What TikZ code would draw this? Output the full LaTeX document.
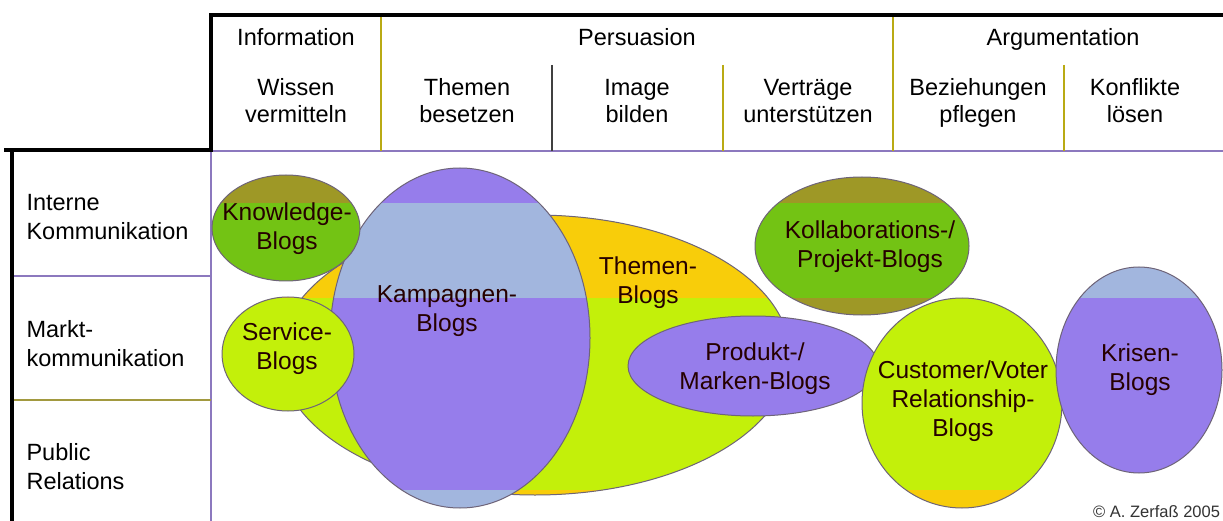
\documentclass[tikz,border=0pt]{standalone}
\usepackage{fontspec}
\setmainfont{Liberation Sans}
\definecolor{cOlive}{RGB}{158,152,38}
\definecolor{cGreen}{RGB}{115,195,20}
\definecolor{cYellow}{RGB}{248,205,10}
\definecolor{cYGreen}{RGB}{195,240,10}
\definecolor{cPurple}{RGB}{150,125,235}
\definecolor{cLBlue}{RGB}{162,182,222}
\definecolor{cSepOlive}{RGB}{185,170,20}
\definecolor{cSepPurple}{RGB}{140,120,190}
\definecolor{cOutline}{RGB}{110,100,120}
\tikzset{
  thickframe/.style={line width=4pt, line cap=rect},
  sepline/.style={line width=1.2pt, cSepOlive},
  gridline/.style={line width=1.2pt, cSepPurple},
  blobline/.style={line width=1pt, cOutline},
  hdr/.style={font=\fontsize{23.5}{27}\selectfont, align=center, text=black, anchor=base},
  side/.style={font=\fontsize{23.5}{29}\selectfont, align=left, anchor=base west, text=black},
  blobtext/.style={font=\fontsize{24.5}{29}\selectfont, align=center, text=black!85!red}
}
\newcommand\blob[6]{%
  \begin{scope}
    \clip (#1,#2) ellipse [x radius=#3, y radius=#4];
    \fill[#5] (#1-#3,#2-#4) rectangle (#1+#3,#2+#4);
    \fill[#6] (#1-#3,203) rectangle (#1+#3,298);
    \fill[#6] (#1-#3,490) rectangle (#1+#3,530);
  \end{scope}
  \draw[blobline] (#1,#2) ellipse [x radius=#3, y radius=#4];
}
\begin{document}
\begin{tikzpicture}[x=1pt,y=-1pt]
\useasboundingbox (0,0) rectangle (1223,521);
\fill[white] (0,0) rectangle (1223,521);

% thin grid lines
\draw[gridline] (210,151) -- (1223,151);
\draw[gridline] (211,151) -- (211,521);
\draw[gridline] (12,276) -- (211,276);
\draw[gridline, cSepOlive!60!gray] (12,400) -- (211,400);
% header separators
\draw[sepline] (381,15) -- (381,151);
\draw[sepline] (893,15) -- (893,151);
\draw[line width=1.2pt, black!75] (552,65) -- (552,151);
\draw[sepline] (723,65) -- (723,151);
\draw[sepline] (1064,65) -- (1064,151);

% thick frame
\draw[thickframe] (1230,15) -- (210.5,15) -- (210.5,150) -- (6,150);
\draw[thickframe] (12,150) -- (12,530);

% header texts (anchor = baseline of last line)
\node[hdr] (hInfo) at (296,46) {Information};
\node[hdr] (hPers) at (637,46) {Persuasion};
\node[hdr] (hArg) at (1063,46) {Argumentation};
\node[hdr] (hWissen) at (296,123) {Wissen\\vermitteln};
\node[hdr] (hThemen) at (467,123) {Themen\\besetzen};
\node[hdr] (hImage) at (637,123) {Image\\bilden};
\node[hdr] (hVert) at (808,123) {Verträge\\unterstützen};
\node[hdr] (hBez) at (978,123) {Beziehungen\\pflegen};
\node[hdr] (hKonf) at (1135,123) {Konflikte\\lösen};

% side texts
\node[side] (sInt) at (23,240) {Interne\\Kommunikation};
\node[side] (sMarkt) at (23,366) {Markt-\\kommunikation};
\node[side] (sPR) at (23,489) {Public\\Relations};

% blobs
\blob{535}{355}{255}{140}{cYGreen}{cYellow}
\blob{460}{338}{130}{170}{cPurple}{cLBlue}
\blob{286}{228}{74}{53}{cOlive}{cGreen}
\blob{288}{354}{66}{57}{cYGreen}{cYellow}
\blob{753}{366}{125}{50}{cPurple}{cLBlue}
\blob{862}{246}{107}{69}{cOlive}{cGreen}
\blob{962}{403}{100}{105}{cYGreen}{cYellow}
\blob{1139}{370}{83}{103}{cPurple}{cLBlue}

% blob labels
\node[blobtext] (tThemen) at (648,283) {Themen-\\Blogs};
\node[blobtext] (tKamp) at (447,311) {Kampagnen-\\Blogs};
\node[blobtext] (tKnow) at (287,229) {Knowledge-\\Blogs};
\node[blobtext] (tServ) at (287,349) {Service-\\Blogs};
\node[blobtext] (tProd) at (755,369) {Produkt-/\\Marken-Blogs};
\node[blobtext] (tKoll) at (870,247) {Kollaborations-/\\Projekt-Blogs};
\node[blobtext] (tCust) at (963,401) {Customer/Voter\\Relationship-\\Blogs};
\node[blobtext] (tKris) at (1140,370) {Krisen-\\Blogs};

\node[anchor=base west, font=\fontsize{16.5}{18}\selectfont, text=black!80, inner sep=0pt] (copy) at (1093,517) {© A. Zerfaß 2005};
\end{tikzpicture}
\end{document}
